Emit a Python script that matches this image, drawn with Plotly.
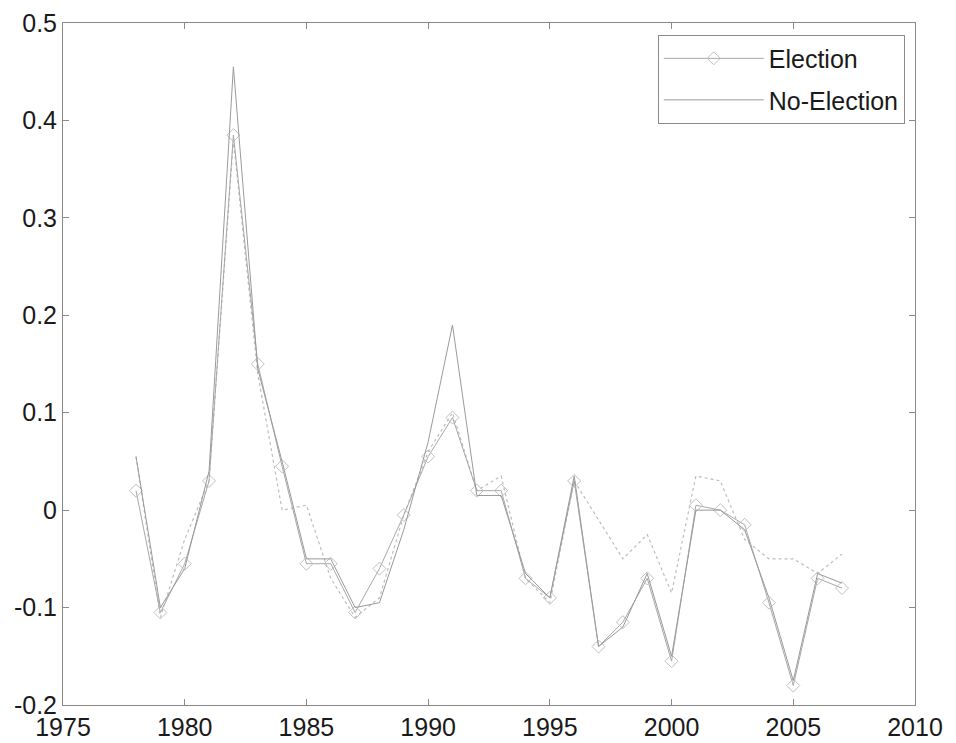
import plotly.graph_objects as go

years = list(range(1978, 2008))

election = [0.02, -0.105, -0.055, 0.03, 0.385, 0.15, 0.045, -0.055, -0.055, -0.105,
            -0.06, -0.005, 0.055, 0.095, 0.02, 0.02, -0.07, -0.09, 0.03, -0.14,
            -0.115, -0.07, -0.155, 0.005, 0.0, -0.015, -0.095, -0.18, -0.07, -0.08]

no_election = [0.055, -0.10, -0.06, 0.04, 0.455, 0.145, 0.05, -0.05, -0.05, -0.10,
               -0.095, -0.02, 0.07, 0.19, 0.015, 0.015, -0.065, -0.09, 0.035, -0.14,
               -0.12, -0.065, -0.15, 0.0, 0.0, -0.02, -0.09, -0.175, -0.065, -0.075]

dotted_series = [0.055, -0.11, -0.03, 0.03, 0.38, 0.14, 0.0, 0.005, -0.07, -0.11,
                 -0.09, -0.005, 0.06, 0.10, 0.02, 0.035, -0.07, -0.095, 0.03, -0.01,
                 -0.05, -0.025, -0.085, 0.035, 0.03, -0.03, -0.05, -0.05, -0.065, -0.045]

x_ticks = [1975, 1980, 1985, 1990, 1995, 2000, 2005, 2010]
x_tick_labels = ["1975", "1980", "1985", "1990", "1995", "2000", "2005", "2010"]
y_ticks = [-0.2, -0.1, 0.0, 0.1, 0.2, 0.3, 0.4, 0.5]
y_tick_labels = ["-0.2", "-0.1", "0", "0.1", "0.2", "0.3", "0.4", "0.5"]

fig = go.Figure()

fig.add_trace(go.Scatter(
    x=years, y=dotted_series, mode="lines", showlegend=False, name="",
    line=dict(color="#bdbdbd", width=1.2, dash="dot"), hoverinfo="skip"))

fig.add_trace(go.Scatter(
    x=years, y=election, mode="lines+markers", name="Election", legendgroup="e",
    line=dict(color="#a8a8a8", width=1),
    marker=dict(symbol="diamond-open", size=10, color="#c0c0c0", line=dict(width=1))))

fig.add_trace(go.Scatter(
    x=years, y=no_election, mode="lines", name="No-Election", legendgroup="n",
    line=dict(color="#9a9a9a", width=1)))

axis_common = dict(
    showgrid=False, zeroline=False, showline=True, linecolor="#8a8a8a", linewidth=1,
    mirror="ticks", ticks="inside", ticklen=6, tickcolor="#8a8a8a", automargin=False,
    ticklabeloverflow="allow",
    tickfont=dict(family="Liberation Sans, Arial, sans-serif", size=25, color="#1a1a1a"),
)

# page body has an 8px default margin, so the figure is sized to fit the window
fig.update_layout(
    width=948, height=735,
    margin=dict(l=55, r=41, t=15, b=38),
    paper_bgcolor="white", plot_bgcolor="white",
    xaxis=dict(range=[1975, 2010], tickmode="array", tickvals=x_ticks,
               ticktext=x_tick_labels, **axis_common),
    yaxis=dict(range=[-0.2, 0.5], tickmode="array", tickvals=y_ticks,
               ticktext=y_tick_labels, **axis_common),
    legend=dict(x=0.988, y=0.983, xanchor="right", yanchor="top",
                bgcolor="white", bordercolor="#8a8a8a", borderwidth=1,
                font=dict(family="Liberation Sans, Arial, sans-serif", size=25, color="#1a1a1a"),
                itemwidth=100, tracegroupgap=6),
    showlegend=True,
)

fig.write_html("out.html")
